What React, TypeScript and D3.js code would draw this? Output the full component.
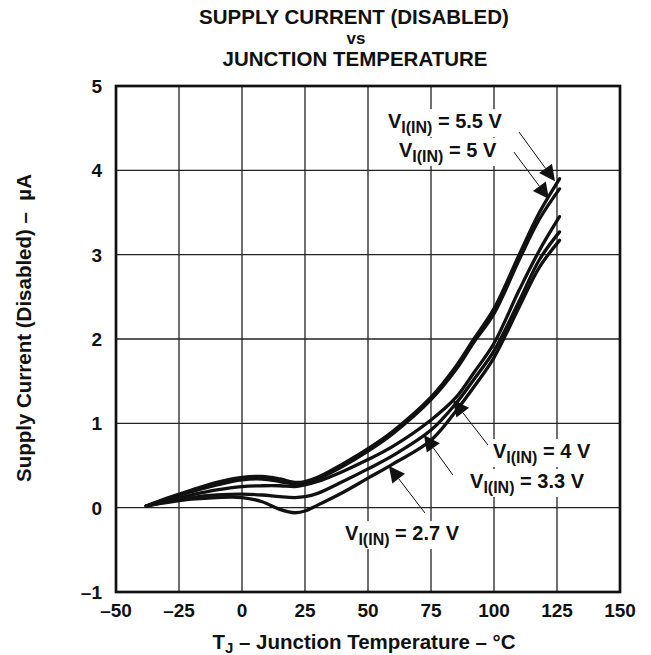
import { useEffect, useRef } from "react";
import * as d3 from "d3";

// junction temperature (°C) sample points shared by every curve
const temps = [-38, -30, -20, -10, 0, 8, 15, 21, 25, 30, 40, 50, 60, 75, 85, 92, 100, 110, 118, 126];

// supply current (µA) per input voltage
const v55 = [0.02, 0.11, 0.21, 0.3, 0.36, 0.37, 0.34, 0.3, 0.31, 0.36, 0.52, 0.7, 0.91, 1.31, 1.68, 2.0, 2.36, 3.0, 3.5, 3.9];
const v50 = [0.02, 0.1, 0.19, 0.27, 0.33, 0.34, 0.31, 0.28, 0.29, 0.34, 0.49, 0.67, 0.88, 1.28, 1.64, 1.96, 2.3, 2.94, 3.42, 3.78];
const v40 = [0.02, 0.08, 0.15, 0.21, 0.25, 0.26, 0.26, 0.25, 0.27, 0.31, 0.43, 0.57, 0.73, 1.04, 1.31, 1.6, 1.95, 2.58, 3.05, 3.45];
const v33 = [0.02, 0.07, 0.12, 0.15, 0.16, 0.15, 0.13, 0.12, 0.13, 0.17, 0.31, 0.46, 0.62, 0.92, 1.24, 1.52, 1.86, 2.45, 2.94, 3.27];
const v27 = [0.02, 0.06, 0.1, 0.12, 0.12, 0.07, -0.02, -0.06, -0.04, 0.03, 0.18, 0.35, 0.52, 0.8, 1.15, 1.43, 1.78, 2.38, 2.85, 3.17];

const xTicks = [-50, -25, 0, 25, 50, 75, 100, 125, 150];
const yTicks = [-1, 0, 1, 2, 3, 4, 5];

// callouts, in data units: label start, leader tail, arrow tip
const noteText = [" = 5.5 V", " = 5 V", " = 4 V", " = 3.3 V", " = 2.7 V"];
const noteAt = [[57.9, 4.5], [62.3, 4.158], [99.6, 0.589], [90.5, 0.233], [40.9, -0.384]];
const noteTail = [[109.9, 4.455], [107.9, 4.217], [97.6, 0.743], [83.7, 0.387], [72.6, -0.063]];
const noteTip = [[124.2, 3.87], [121.8, 3.66], [83.7, 1.277], [72.2, 0.862], [58.3, 0.494]];

const FONT = "'Liberation Sans', Arial, Helvetica, sans-serif";
const fmt = (v: number) => (v < 0 ? "\u2013" + Math.abs(v) : String(v));

const Chart = () => {
  const svgRef = useRef<SVGSVGElement>(null);

  useEffect(() => {
    const svg = d3.select(svgRef.current);
    svg.selectAll("*").remove();

    const x = d3.scaleLinear().domain([-50, 150]).range([116, 620]);
    const y = d3.scaleLinear().domain([-1, 5]).range([592, 86]);

    // grid
    const grid = svg.append("g").attr("stroke", "#222").attr("stroke-width", 1.3);
    grid.selectAll("line.v")
      .data(xTicks.slice(1, -1))
      .join("line")
      .attr("x1", (d) => x(d)).attr("x2", (d) => x(d))
      .attr("y1", y(-1)).attr("y2", y(5));
    grid.selectAll("line.h")
      .data(yTicks.slice(1, -1))
      .join("line")
      .attr("class", "h")
      .attr("x1", x(-50)).attr("x2", x(150))
      .attr("y1", (d) => y(d)).attr("y2", (d) => y(d));

    // curves
    const line = d3.line<number>()
      .x((_, i) => x(temps[i]))
      .y((d) => y(d))
      .curve(d3.curveCatmullRom.alpha(0.5));
    svg.append("g")
      .selectAll("path")
      .data([v27, v33, v40, v50, v55])
      .join("path")
      .attr("d", (d) => line(d))
      .attr("fill", "none")
      .attr("stroke", "#111")
      .attr("stroke-width", 3.3)
      .attr("stroke-linejoin", "round")
      .attr("stroke-linecap", "round");

    // callout labels with white boxes
    const notes = svg.append("g");
    noteText.forEach((t, i) => {
      const g = notes.append("g");
      const bg = g.append("rect").attr("fill", "#fff");
      const txt = g.append("text")
        .attr("x", x(noteAt[i][0]))
        .attr("y", y(noteAt[i][1]))
        .attr("font-family", FONT)
        .attr("font-weight", "bold")
        .attr("font-size", 20)
        .attr("fill", "#111")
        .style("white-space", "pre");
      txt.append("tspan").text("V");
      txt.append("tspan").attr("font-size", 16).attr("dy", 5).text("I(IN)");
      txt.append("tspan").attr("dy", -5).text(t);
      const b = (txt.node() as SVGTextElement).getBBox();
      bg.attr("x", b.x - 4).attr("y", b.y - 1).attr("width", b.width + 8).attr("height", b.height + 2);

      // leader + arrowhead
      const [tx, ty] = [x(noteTail[i][0]), y(noteTail[i][1])];
      const [hx, hy] = [x(noteTip[i][0]), y(noteTip[i][1])];
      const ang = Math.atan2(hy - ty, hx - tx);
      const len = 16, half = 8;
      const bx = hx - len * Math.cos(ang), by = hy - len * Math.sin(ang);
      g.append("line")
        .attr("x1", tx).attr("y1", ty).attr("x2", bx).attr("y2", by)
        .attr("stroke", "#111").attr("stroke-width", 1);
      g.append("path")
        .attr("d", `M${hx},${hy}L${bx + half * Math.sin(ang)},${by - half * Math.cos(ang)}L${bx - half * Math.sin(ang)},${by + half * Math.cos(ang)}Z`)
        .attr("fill", "#111");
    });

    // frame
    svg.append("rect")
      .attr("x", x(-50)).attr("y", y(5))
      .attr("width", x(150) - x(-50)).attr("height", y(-1) - y(5))
      .attr("fill", "none").attr("stroke", "#111").attr("stroke-width", 2.7);

    // tick labels
    const ticks = svg.append("g")
      .attr("font-family", FONT).attr("font-weight", "bold").attr("font-size", 19).attr("fill", "#111");
    ticks.selectAll("text.x")
      .data(xTicks)
      .join("text")
      .attr("x", (d) => x(d)).attr("y", 617)
      .attr("text-anchor", "middle")
      .text(fmt);
    ticks.selectAll("text.y")
      .data(yTicks)
      .join("text")
      .attr("class", "y")
      .attr("x", 102).attr("y", (d) => y(d) + 7)
      .attr("text-anchor", "end")
      .text(fmt);

    // titles
    const titles = svg.append("g")
      .attr("font-family", FONT).attr("font-weight", "bold").attr("fill", "#111").attr("text-anchor", "middle");
    titles.append("text").attr("x", 354).attr("y", 24).attr("font-size", 20.5).text("SUPPLY CURRENT (DISABLED)");
    titles.append("text").attr("x", 356).attr("y", 44).attr("font-size", 17).text("vs");
    titles.append("text").attr("x", 355).attr("y", 66).attr("font-size", 20.5).text("JUNCTION TEMPERATURE");

    const xl = titles.append("text").attr("x", 364).attr("y", 649).attr("font-size", 20.5);
    xl.append("tspan").text("T");
    xl.append("tspan").attr("font-size", 15).attr("dy", 4).text("J");
    xl.append("tspan").attr("dy", -4).text(" \u2013 Junction Temperature \u2013 \u00B0C");

    titles.append("text")
      .attr("transform", "translate(31,328) rotate(-90)")
      .attr("font-size", 20.5)
      .style("white-space", "pre")
      .text("Supply Current (Disabled) \u2013  \u00B5A");
  }, []);

  return (
    <svg
      ref={svgRef}
      width={651}
      height={655}
      style={{ position: "absolute", left: 0, top: 0, background: "#fff" }}
    />
  );
};

export default function App() {
  return <Chart />;
}
